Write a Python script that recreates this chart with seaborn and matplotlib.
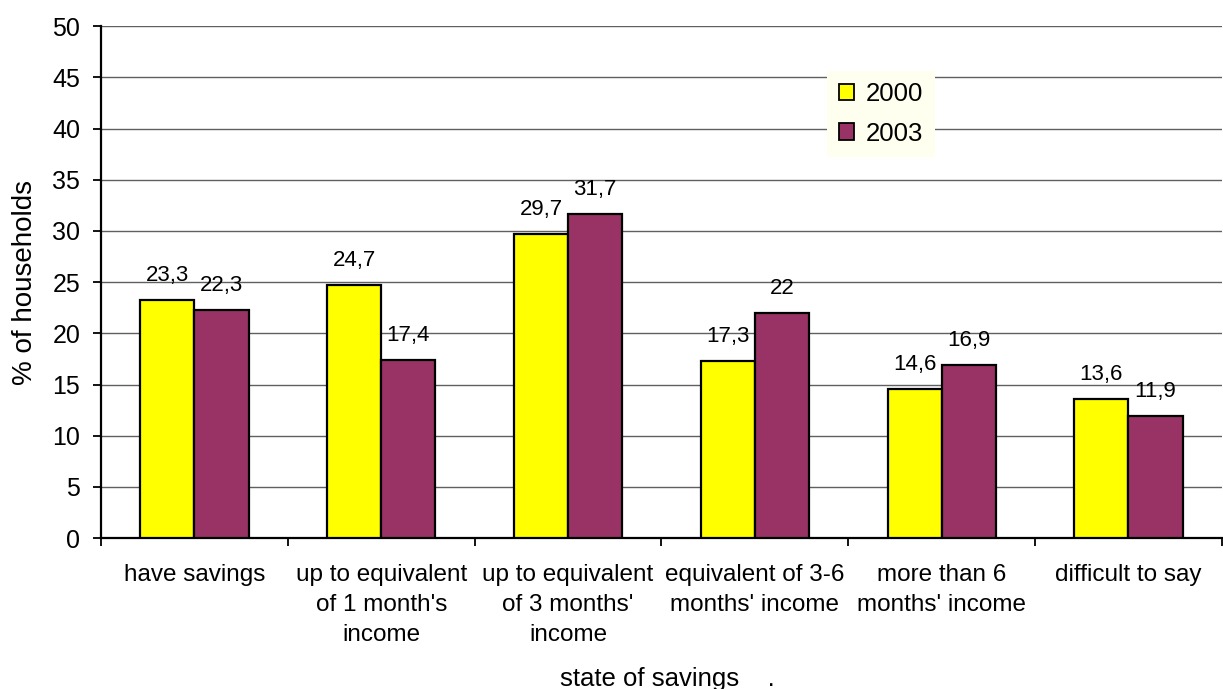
import matplotlib
matplotlib.use("Agg")
import matplotlib.pyplot as plt
import seaborn as sns
import pandas as pd
from matplotlib.patches import Patch

categories = [
    "have savings",
    "up to equivalent\nof 1 month's\nincome",
    "up to equivalent\nof 3 months'\nincome",
    "equivalent of 3-6\nmonths' income",
    "more than 6\nmonths' income",
    "difficult to say",
]
years = ["2000", "2003"]
values_2000 = [23.3, 24.7, 29.7, 17.3, 14.6, 13.6]
values_2003 = [22.3, 17.4, 31.7, 22.0, 16.9, 11.9]
labels_2000 = ["23,3", "24,7", "29,7", "17,3", "14,6", "13,6"]
labels_2003 = ["22,3", "17,4", "31,7", "22", "16,9", "11,9"]
yticks = [0, 5, 10, 15, 20, 25, 30, 35, 40, 45, 50]

df = pd.DataFrame({
    "category": categories * 2,
    "year": [years[0]] * len(categories) + [years[1]] * len(categories),
    "value": values_2000 + values_2003,
})

sns.set_theme(style="white")
plt.rcParams["font.family"] = ["Liberation Sans", "DejaVu Sans"]
plt.rcParams["text.color"] = "black"
plt.rcParams["axes.labelcolor"] = "black"

palette = {"2000": "#FFFF00", "2003": "#993366"}

fig = plt.figure(figsize=(12.23, 6.89), dpi=100)
ax = fig.add_axes([0.0826, 0.219, 0.9165, 0.743])

sns.barplot(data=df, x="category", y="value", hue="year", order=categories,
            hue_order=years, palette=palette, width=0.58, saturation=1,
            edgecolor="black", linewidth=1.6, ax=ax, legend=False, zorder=3)

ax.set_ylim(0, 50)
ax.set_xlim(-0.5, len(categories) - 0.5)
ax.set_yticks(yticks)
ax.yaxis.grid(True, color="#606060", linewidth=1.0, zorder=0)
ax.set_axisbelow(True)

for side in ["top", "right"]:
    ax.spines[side].set_visible(False)
for side in ["left", "bottom"]:
    ax.spines[side].set_color("black")
    ax.spines[side].set_linewidth(1.6)

ax.tick_params(axis="y", which="major", direction="out", length=6, width=1.3,
               color="black", labelsize=18, pad=9, left=True,
               labelcolor="black")
ax.tick_params(axis="x", which="major", length=0, labelsize=17.5, pad=19,
               labelcolor="black")
ax.set_xticks(range(len(categories)))
ax.set_xticklabels(categories, linespacing=1.45)
ax.set_xticks([i - 0.5 for i in range(len(categories) + 1)], minor=True)
ax.tick_params(axis="x", which="minor", direction="out", length=6, width=1.3,
               color="black", bottom=True)

# value labels above each bar
for container, labels in zip(ax.containers, [labels_2000, labels_2003]):
    for bar, txt in zip(container, labels):
        ax.annotate(txt, (bar.get_x() + bar.get_width() / 2, bar.get_height()),
                    xytext=(0, 10), textcoords="offset points",
                    ha="center", va="bottom", fontsize=16, color="black")

ax.set_ylabel("% of households", fontsize=20, color="black")
ax.yaxis.set_label_coords(-0.056, 0.5)
ax.set_xlabel("state of savings    .", fontsize=18.5, color="black")
ax.xaxis.set_label_coords(0.505, -0.252)

handles = [Patch(facecolor=palette[y], edgecolor="black", linewidth=1.3, label=y)
           for y in years]
leg = ax.legend(handles=handles, loc="upper left", bbox_to_anchor=(0.648, 0.913),
                fontsize=18.5, frameon=True, handlelength=0.6, handleheight=0.6,
                handletextpad=0.45, labelspacing=0.6, borderpad=0.45,
                borderaxespad=0, fancybox=False, labelcolor="black")
leg.get_frame().set_facecolor("#FFFFF0")
leg.get_frame().set_edgecolor("none")
leg.get_frame().set_alpha(1)
leg.set_zorder(5)

fig.savefig("out.png", dpi=100)
